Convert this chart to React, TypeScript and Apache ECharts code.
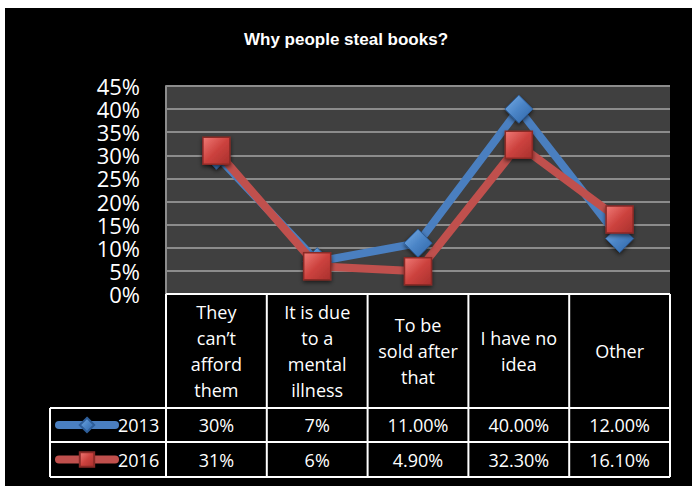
import React, { useEffect, useRef } from "react";
import * as echarts from "echarts";

const title = "Why people steal books?";
const categories = [
  "They\ncan’t\nafford\nthem",
  "It is due\nto a\nmental\nillness",
  "To be\nsold after\nthat",
  "I have no\nidea",
  "Other",
];
const seriesNames = ["2013", "2016"];
const values2013 = [0.3, 0.07, 0.11, 0.4, 0.12];
const values2016 = [0.31, 0.06, 0.049, 0.323, 0.161];
const labels2013 = ["30%", "7%", "11.00%", "40.00%", "12.00%"];
const labels2016 = ["31%", "6%", "4.90%", "32.30%", "16.10%"];
const yMax = 0.45;
const yStep = 0.05;

const FONT = "'Open Sans', sans-serif";
const L = 166;
const R = 670;
const T = 86;
const B = 294;
const W = 692;
const H = 486;
const HEADER_BOTTOM = 408;
const ROW1_BOTTOM = 442;
const ROW2_BOTTOM = 477;
const TABLE_LEFT = 50;

export default function App() {
  const ref = useRef<HTMLDivElement>(null);
  useEffect(() => {
    if (!ref.current) return;
    const chart = echarts.init(ref.current, undefined, { renderer: "svg" });
    const colW = (R - L) / categories.length;
    const lines: any[] = [];
    const ln = (x1: number, y1: number, x2: number, y2: number) =>
      lines.push({
        type: "line",
        z: 100,
        shape: { x1, y1, x2, y2 },
        style: { stroke: "#ffffff", lineWidth: 2 },
      });
    ln(L, B, R, B);
    ln(TABLE_LEFT, HEADER_BOTTOM, R, HEADER_BOTTOM);
    ln(TABLE_LEFT, ROW1_BOTTOM, R, ROW1_BOTTOM);
    ln(TABLE_LEFT, ROW2_BOTTOM, R, ROW2_BOTTOM);
    ln(TABLE_LEFT, HEADER_BOTTOM, TABLE_LEFT, ROW2_BOTTOM);
    for (let k = 0; k <= categories.length; k++) {
      const x = L + k * colW;
      ln(x, B, x, ROW2_BOTTOM);
    }
    const redFill = new echarts.graphic.LinearGradient(0, 0, 1, 1, [
      { offset: 0, color: "#f07a76" },
      { offset: 0.5, color: "#cc423e" },
      { offset: 1, color: "#a8302d" },
    ]);
    const blueFill = new echarts.graphic.LinearGradient(0, 0, 1, 1, [
      { offset: 0, color: "#78aee6" },
      { offset: 0.5, color: "#4a84c6" },
      { offset: 1, color: "#2f64a6" },
    ]);
    const headerRowMid = (B + HEADER_BOTTOM) / 2;
    const row1Mid = (HEADER_BOTTOM + ROW1_BOTTOM) / 2;
    const row2Mid = (ROW1_BOTTOM + ROW2_BOTTOM) / 2;
    const legendItemH = 18;
    const valueAxis = (offset: number, labels: string[]) => ({
      type: "category",
      data: categories,
      position: "bottom",
      offset,
      axisLine: { show: false },
      axisTick: { show: false },
      splitLine: { show: false },
      axisLabel: {
        interval: 0,
        margin: 0,
        verticalAlign: "middle",
        color: "#ffffff",
        fontSize: 18,
        lineHeight: 20,
        fontFamily: FONT,
        formatter: (_v: string, i: number) => labels[i],
      },
    });
    chart.setOption({
      animation: false,
      backgroundColor: "#000000",
      title: {
        text: title,
        left: "center",
        top: 26,
        textStyle: {
          color: "#ffffff",
          fontSize: 17,
          fontWeight: "bold",
          fontFamily: "'Liberation Sans', Arial, sans-serif",
        },
      },
      grid: {
        left: L,
        right: W - R,
        top: T,
        bottom: H - B,
        show: true,
        backgroundColor: "#404040",
        borderWidth: 0,
      },
      legend: {
        orient: "vertical",
        left: 55,
        top: row1Mid - legendItemH / 2,
        padding: 0,
        itemWidth: 56,
        itemHeight: legendItemH,
        itemGap: row2Mid - row1Mid - legendItemH,
        textStyle: { color: "#ffffff", fontSize: 18, fontFamily: FONT, padding: [0, 0, 0, -2] },
        lineStyle: { width: 8, cap: "round" },
        data: seriesNames,
      },
      xAxis: [
        {
          type: "category",
          data: categories,
          boundaryGap: true,
          axisLine: { show: false },
          axisTick: { show: false },
          axisLabel: {
            interval: 0,
            margin: headerRowMid - B,
            verticalAlign: "middle",
            align: "center",
            color: "#ffffff",
            fontSize: 18,
            lineHeight: 26,
            fontFamily: FONT,
          },
        },
        valueAxis(row1Mid - B, labels2013),
        valueAxis(row2Mid - B, labels2016),
      ],
      yAxis: {
        type: "value",
        min: 0,
        max: yMax,
        interval: yStep,
        axisLine: { show: true, lineStyle: { color: "#8c8c8c", width: 2 } },
        axisTick: { show: false },
        splitLine: { lineStyle: { color: "#8c8c8c", width: 2 } },
        axisLabel: {
          color: "#ffffff",
          fontSize: 22,
          lineHeight: 22,
          fontFamily: FONT,
          margin: 26,
          formatter: (v: number) => Math.round(v * 100) + "%",
        },
      },
      graphic: [
        { type: "rect", z: 200, shape: { x: 0, y: 0, width: W, height: 8 }, style: { fill: "#ffffff" } },
        { type: "rect", z: 200, shape: { x: 0, y: 0, width: 5, height: H }, style: { fill: "#ffffff" } },
        ...lines,
      ],
      series: [
        {
          name: seriesNames[0],
          type: "line",
          xAxisIndex: 0,
          data: values2013,
          symbol: "diamond",
          symbolSize: [28, 28],
          lineStyle: { color: "#4a7fc0", width: 8 },
          itemStyle: {
            color: blueFill,
            borderColor: "#2d5d98",
            borderWidth: 1,
            shadowBlur: 4,
            shadowColor: "rgba(0,0,0,0.6)",
            shadowOffsetY: 2,
          },
        },
        {
          name: seriesNames[1],
          type: "line",
          xAxisIndex: 0,
          data: values2016,
          symbol: "rect",
          symbolSize: [27, 27],
          lineStyle: { color: "#c0504d", width: 8 },
          itemStyle: {
            color: redFill,
            borderColor: "#8b2a27",
            borderWidth: 1.5,
            shadowBlur: 4,
            shadowColor: "rgba(0,0,0,0.6)",
            shadowOffsetY: 2,
          },
        },
      ],
    });
    return () => chart.dispose();
  }, []);
  return (
    <div style={{ position: "absolute", left: 0, top: 0, width: W, height: H, background: "#fff" }}>
      <div ref={ref} style={{ width: W, height: H }} />
    </div>
  );
}
